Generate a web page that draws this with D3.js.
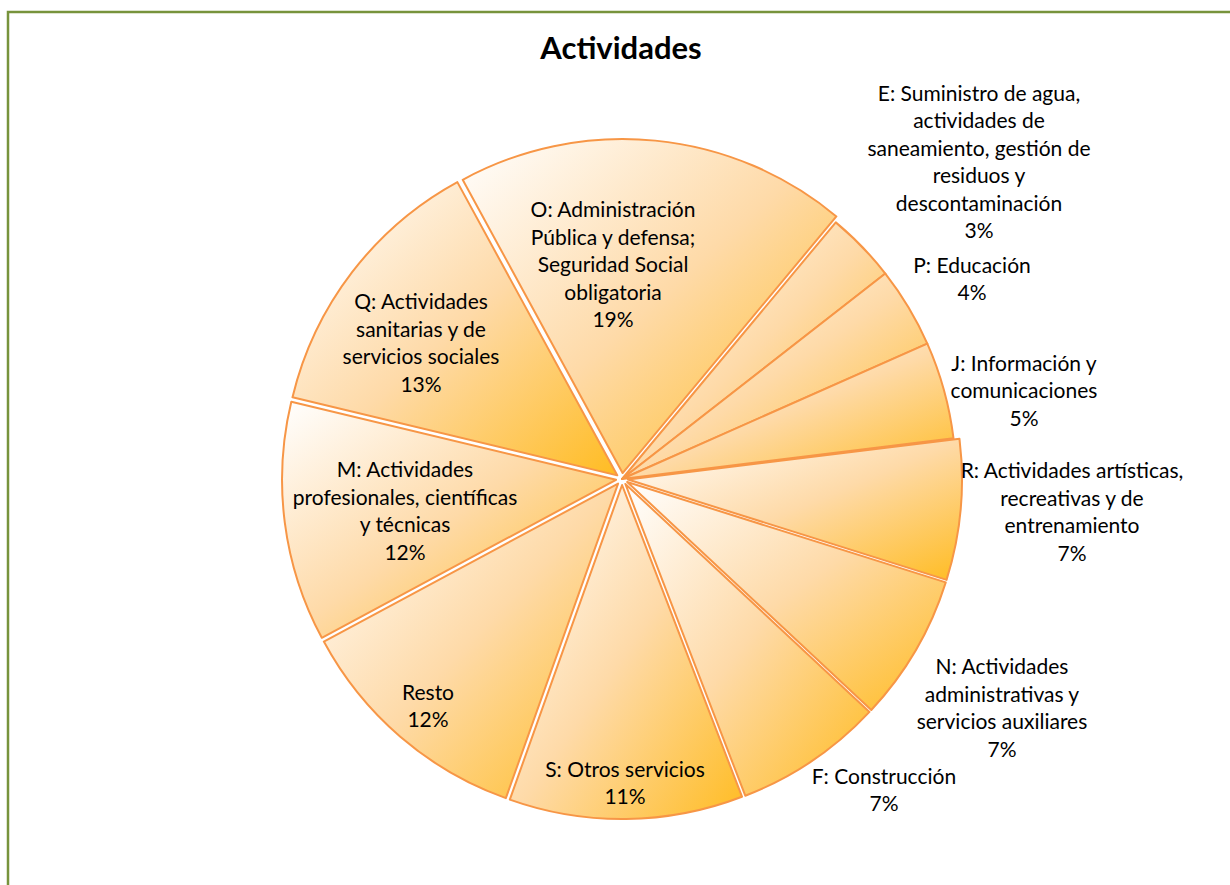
<!DOCTYPE html>
<html>
<head>
<meta charset="utf-8">
<script src="https://cdn.jsdelivr.net/npm/d3@7"></script>
<style>
  html, body { margin: 0; padding: 0; background: #fff; }
  svg { display: block; }
</style>
</head>
<body>
<svg id="chart" width="1230" height="885"></svg>
<script>
// ---- data ----
const categories = [
  "O: Administración Pública y defensa; Seguridad Social obligatoria",
  "E: Suministro de agua, actividades de saneamiento, gestión de residuos y descontaminación",
  "P: Educación",
  "J: Información y comunicaciones",
  "R: Actividades artísticas, recreativas y de entrenamiento",
  "N: Actividades administrativas y servicios auxiliares",
  "F: Construcción",
  "S: Otros servicios",
  "Resto",
  "M: Actividades profesionales, científicas y técnicas",
  "Q: Actividades sanitarias y de servicios sociales"
];
const values = [19.0, 3.4, 3.9, 4.7, 6.8, 7.1, 7.2, 11.3, 11.7, 11.6, 13.3];
const title = "Actividades";

// ---- layout (label line breaks and positions, relative to pie centre) ----
const labelLines = [
  ["O: Administración", "Pública y defensa;", "Seguridad Social", "obligatoria"],
  ["E: Suministro de agua,", "actividades de", "saneamiento, gestión de", "residuos y", "descontaminación"],
  ["P: Educación"],
  ["J: Información y", "comunicaciones"],
  ["R: Actividades artísticas,", "recreativas y de", "entrenamiento"],
  ["N: Actividades", "administrativas y", "servicios auxiliares"],
  ["F: Construcción"],
  ["S: Otros servicios"],
  ["Resto"],
  ["M: Actividades", "profesionales, científicas", "y técnicas"],
  ["Q: Actividades", "sanitarias y de", "servicios sociales"]
];
const labelOffset = [
  [-9, -214], [357, -317], [350, -200], [402, -88], [450, 33], [380, 229],
  [262, 311], [3, 304], [-194, 227], [-217, 32], [-201, -136]
];
const explode = [1, 0, 0, 0, 1, 1, 1, 1, 1, 1, 1];

const W = 1230, H = 885;
const cx = 622, cy = 479, R = 334, explodeDist = 6;
const startDeg = -28.6;
const lineH = 27.5;
const font = "Lato, 'Open Sans', sans-serif";

const svg = d3.select("#chart");

// outer border
svg.append("rect")
  .attr("x", 8).attr("y", 12)
  .attr("width", W + 20).attr("height", H + 20)
  .attr("fill", "#fff")
  .attr("stroke", "#77933C").attr("stroke-width", 2.5);

// title
svg.append("text")
  .attr("x", 621).attr("y", 59)
  .attr("text-anchor", "middle")
  .attr("font-family", font)
  .attr("font-weight", "bold")
  .attr("font-size", 31)
  .attr("fill", "#000")
  .text(title);

// gradient
const defs = svg.append("defs");
const grad = defs.append("linearGradient")
  .attr("id", "sliceGrad")
  .attr("x1", 0).attr("y1", 0).attr("x2", 1).attr("y2", 1);
grad.append("stop").attr("offset", "0%").attr("stop-color", "#FFFFFF");
grad.append("stop").attr("offset", "50%").attr("stop-color", "#FEDAA8");
grad.append("stop").attr("offset", "100%").attr("stop-color", "#FFBC22");

const start = startDeg * Math.PI / 180;
const pie = d3.pie().sort(null).value(d => d)
  .startAngle(start).endAngle(start + 2 * Math.PI);
const arcs = pie(values);
const arc = d3.arc().innerRadius(0).outerRadius(R);

const g = svg.append("g").attr("transform", `translate(${cx},${cy})`);

g.selectAll("path.slice")
  .data(arcs)
  .join("path")
  .attr("class", "slice")
  .attr("d", arc)
  .attr("transform", (d, i) => {
    const a = (d.startAngle + d.endAngle) / 2;
    const k = explode[i] * explodeDist;
    return `translate(${k * Math.sin(a)},${-k * Math.cos(a)})`;
  })
  .attr("fill", "url(#sliceGrad)")
  .attr("stroke", "#F79646")
  .attr("stroke-width", 2)
  .attr("stroke-linejoin", "round");

// labels
const fmt = v => Math.round(v) + "%";
const lab = g.selectAll("text.lab")
  .data(arcs)
  .join("text")
  .attr("class", "lab")
  .attr("text-anchor", "middle")
  .attr("font-family", font)
  .attr("font-size", 21)
  .attr("fill", "#000");

lab.each(function(d, i) {
  const lines = labelLines[i].concat([fmt(d.data)]);
  const [ox, oy] = labelOffset[i];
  const top = oy - (lines.length - 1) * lineH / 2;
  const t = d3.select(this);
  lines.forEach((ln, j) => {
    t.append("tspan")
      .attr("x", ox)
      .attr("y", top + j * lineH)
      .attr("dy", "0.35em")
      .text(ln);
  });
});
</script>
</body>
</html>
